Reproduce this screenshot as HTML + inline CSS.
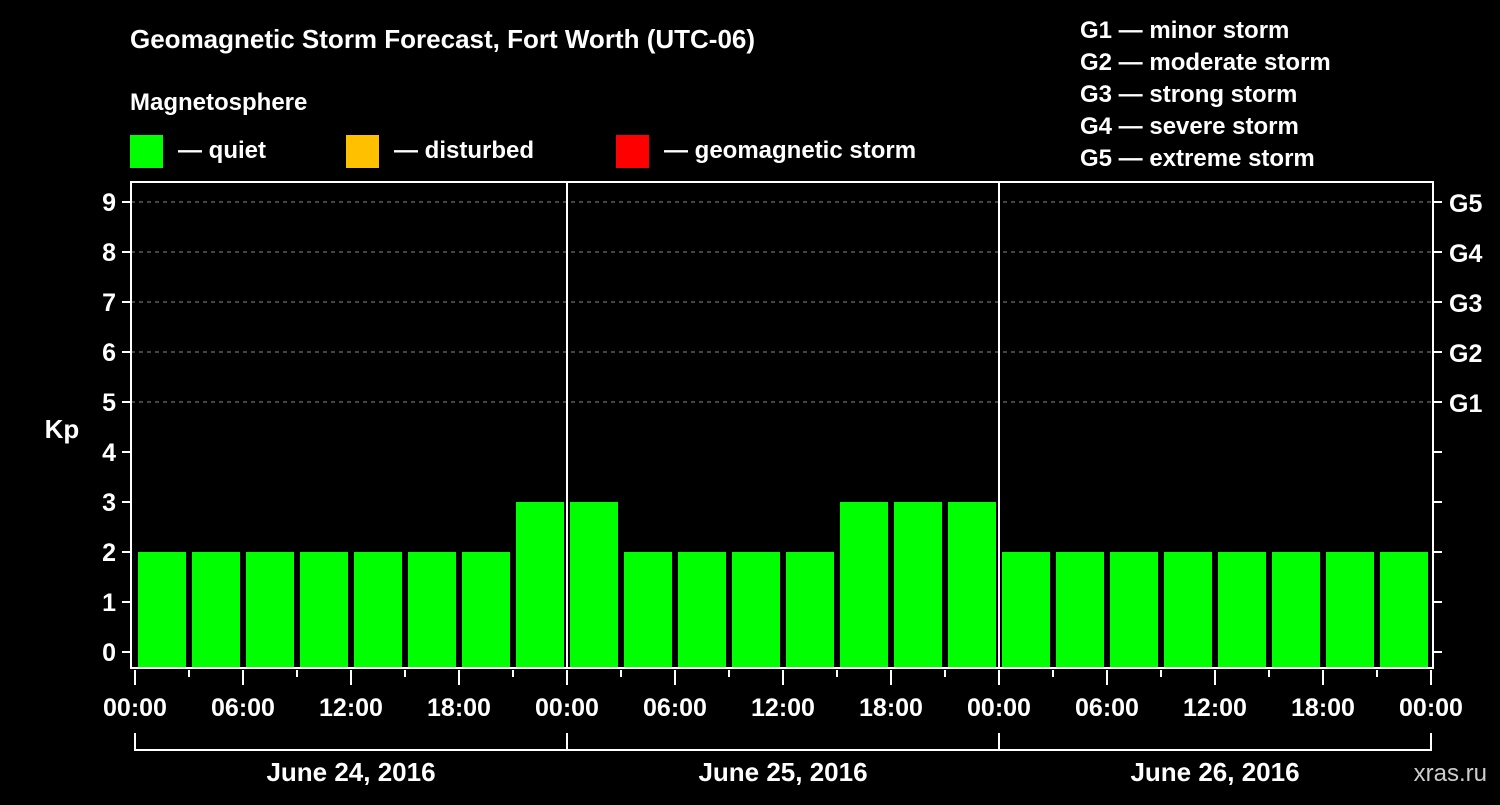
<!DOCTYPE html>
<html><head><meta charset="utf-8"><style>
body{margin:0;background:#000;}
svg text{font-family:"Liberation Sans",Arial,sans-serif;font-weight:bold;fill:#fff;}
</style></head><body>
<svg id="c" width="1500" height="800" xmlns="http://www.w3.org/2000/svg">
<rect width="1500" height="800" fill="#000"/>
<text x="130" y="48" font-size="26">Geomagnetic Storm Forecast, Fort Worth (UTC-06)</text>
<text x="130" y="110" font-size="24">Magnetosphere</text>
<g><rect x="130" y="135" width="33" height="33" fill="#00ff00"/><text x="178" y="158" font-size="24">— quiet</text></g>
<g><rect x="346" y="135" width="33" height="33" fill="#ffc000"/><text x="394" y="158" font-size="24">— disturbed</text></g>
<g><rect x="616" y="135" width="33" height="33" fill="#ff0000"/><text x="664" y="158" font-size="24">— geomagnetic storm</text></g>
<g font-size="24">
<text x="1080" y="38">G1 — minor storm</text>
<text x="1080" y="70">G2 — moderate storm</text>
<text x="1080" y="102">G3 — strong storm</text>
<text x="1080" y="134">G4 — severe storm</text>
<text x="1080" y="166">G5 — extreme storm</text>
</g>
<text x="62" y="438" font-size="26" text-anchor="middle">Kp</text>
<text x="1487" y="781" font-size="24" text-anchor="end" fill="#ccc" style="fill:#ccc;font-weight:normal">xras.ru</text>
<g id="grid"></g><g id="bars"></g><g id="axes"></g>
</svg>
<script>
const kpValues=[2,2,2,2,2,2,2,3, 3,2,2,2,2,3,3,3, 2,2,2,2,2,2,2,2];
const yTicks=[0,1,2,3,4,5,6,7,8,9];
const gLabels=["","","","","","G1","G2","G3","G4","G5"];
const xTickLabels=["00:00","06:00","12:00","18:00","00:00","06:00","12:00","18:00","00:00","06:00","12:00","18:00","00:00"];
const dayLabels=["June 24, 2016","June 25, 2016","June 26, 2016"];
const NS="http://www.w3.org/2000/svg";
const L=131,R=1433,T=182,B=668,X0=135,X1=1431;
const n=kpValues.length, step=(X1-X0)/n;
const xs=i=>X0+i*step;
const ys=v=>652-v*50;
function mk(tag,at,parent){const e=document.createElementNS(NS,tag);for(const k in at)e.setAttribute(k,at[k]);document.getElementById(parent).appendChild(e);return e;}
yTicks.forEach(v=>{
  if(v>=5){const g=mk('line',{x1:L,x2:R,y1:ys(v),y2:ys(v),stroke:'#888','stroke-dasharray':'4 4','stroke-width':1},'grid');
  
  }
  const t=mk('line',{x1:L-9,x2:L,y1:ys(v),y2:ys(v),stroke:'#fff','stroke-width':2},'axes');
  
  
  const tr=mk('line',{x1:R,x2:R+9,y1:ys(v),y2:ys(v),stroke:'#fff','stroke-width':2},'axes');
  
  
  const lb=mk('text',{x:L-15,y:ys(v)+9,'font-size':25,'text-anchor':'end'},'axes');lb.textContent=v;
  
  
  if(gLabels[v]){const gl=mk('text',{x:R+16,y:ys(v)+10,'font-size':25},'axes');gl.textContent=gLabels[v];
  
  }
});
kpValues.forEach((v,i)=>{
  const c=v>=5?'#ff0000':(v>=4?'#ffc000':'#00ff00');
  const b=mk('rect',{x:xs(i)+3,y:ys(v),width:step-6,height:B-1-ys(v),fill:c},'bars');
  
  
});
const frame=mk('path',{d:`M${L} ${T} H${R} V${B} H${L} Z`,fill:'none',stroke:'#fff','stroke-width':2},'axes');


[8,16].forEach(i=>{const d=mk('line',{x1:xs(i),x2:xs(i),y1:T,y2:B,stroke:'#fff','stroke-width':2},'axes');

});
for(let i=0;i<=n;i++){
  const major=i%2==0;
  const t=mk('line',{x1:xs(i),x2:xs(i),y1:B+2,y2:major?B+17:B+9,stroke:'#fff','stroke-width':2},'axes');
  
  
  if(major){const lb=mk('text',{x:xs(i),y:716,'font-size':25,'text-anchor':'middle'},'axes');lb.textContent=xTickLabels[i/2];
  
  }
}
const br=mk('path',{d:`M${X0} 733 V750 H${X1} V733 M${xs(8)} 733 V750 M${xs(16)} 733 V750`,fill:'none',stroke:'#fff','stroke-width':2},'axes');


dayLabels.forEach((d,k)=>{const t=mk('text',{x:(xs(k*8)+xs(k*8+8))/2,y:781,'font-size':26,'text-anchor':'middle'},'axes');t.textContent=d;

});
</script>
</body></html>
